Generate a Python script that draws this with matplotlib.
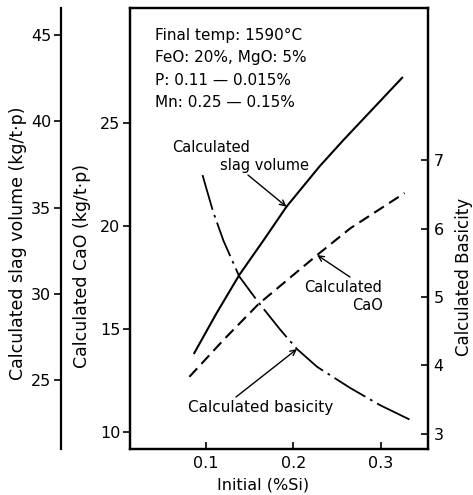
import matplotlib
matplotlib.use("Agg")
import matplotlib.pyplot as plt

# values
si_slag = [0.086, 0.112, 0.138, 0.166, 0.192, 0.230, 0.257, 0.325]
slag_volume = [26.51, 28.87, 31.09, 33.12, 35.05, 37.4, 38.91, 42.57]

si_cao = [0.081, 0.120, 0.160, 0.227, 0.265, 0.327]
cao = [12.68, 14.47, 16.21, 18.59, 19.89, 21.6]

si_bas = [0.096, 0.108, 0.120, 0.138, 0.160, 0.185, 0.204, 0.227, 0.265, 0.299, 0.336]
basicity = [6.78, 6.25, 5.82, 5.30, 4.92, 4.52, 4.24, 3.98, 3.67, 3.42, 3.19]

x_ticks = [0.1, 0.2, 0.3]
cao_ticks = [10, 15, 20, 25]
slag_ticks = [25, 30, 35, 40, 45]
bas_ticks = [3, 4, 5, 6, 7]

notes = ["Final temp: 1590°C", "FeO: 20%, MgO: 5%",
         "P: 0.11 — 0.015%", "Mn: 0.25 — 0.15%"]

plt.rcParams['font.family'] = ['DejaVu Sans']

fig = plt.figure(figsize=(4.73, 4.95), dpi=100)
ax = fig.add_axes([0.2748, 0.0929, 0.6300, 0.8909])
ax2 = ax.twinx()
ax3 = ax.twinx()

lw_sp = 1.6
for a in (ax, ax2, ax3):
    for s in a.spines.values():
        s.set_linewidth(lw_sp)

# outer slag volume axis
ax3.spines['left'].set_position(('axes', -0.2315))
ax3.spines['left'].set_visible(True)
for s in ('right', 'top', 'bottom'):
    ax3.spines[s].set_visible(False)
ax3.yaxis.set_label_position('left')
ax3.yaxis.set_ticks_position('left')

ax.set_xlim(0.0131, 0.3537)
ax.set_ylim(9.175, 30.58)
ax2.set_ylim(2.78, 9.22)
ax3.set_ylim(21.0, 46.57)

ax.set_xticks(x_ticks)
ax.set_xticklabels([str(v) for v in x_ticks])
ax.set_yticks(cao_ticks)
ax2.set_yticks(bas_ticks)
ax3.set_yticks(slag_ticks)

ax.tick_params(axis='x', direction='in', length=5, width=1.2, labelsize=11.5, pad=5)
ax.tick_params(axis='y', direction='out', length=5, width=1.2, labelsize=11.5, pad=2)
ax2.tick_params(axis='y', direction='in', length=5, width=1.2, labelsize=11.5, pad=4)
ax3.tick_params(axis='y', direction='out', length=5, width=1.2, labelsize=11.5, pad=2)

# curves
ax3.plot(si_slag, slag_volume, color='black', lw=1.5, solid_capstyle='butt')
ax.plot(si_cao, cao, color='black', lw=1.5, dashes=(5.5, 3))
ax2.plot(si_bas, basicity, color='black', lw=1.3, dashes=(20, 3, 1.5, 3))

# condition notes
for i, t in enumerate(notes):
    ax3.text(0.084, 0.9388 - i * 0.0513, t, transform=ax3.transAxes,
             fontsize=11, va='center', ha='left')

# curve labels and arrows
ax3.text(0.2735, 0.6848, "Calculated", transform=ax3.transAxes,
         fontsize=10.5, ha='center', va='center')
ax3.text(0.453, 0.644, "slag volume", transform=ax3.transAxes,
         fontsize=10.5, ha='center', va='center')
ax3.annotate('', xy=(si_slag[4], slag_volume[4]), xycoords=ax3.transData,
             xytext=(0.396, 0.6213), textcoords='axes fraction',
             arrowprops=dict(arrowstyle='->', lw=1.0, color='black',
                             shrinkA=0, shrinkB=0))

ax3.text(0.8456, 0.3673, "Calculated", transform=ax3.transAxes,
         fontsize=10.5, ha='right', va='center')
ax3.text(0.849, 0.3265, "CaO", transform=ax3.transAxes,
         fontsize=10.5, ha='right', va='center')
ax3.annotate('', xy=(si_cao[3], cao[3]), xycoords=ax.transData,
             xytext=(0.7383, 0.39), textcoords='axes fraction',
             arrowprops=dict(arrowstyle='->', lw=1.0, color='black',
                             shrinkA=0, shrinkB=0))

ax3.text(0.4396, 0.0952, "Calculated basicity", transform=ax3.transAxes,
         fontsize=11, ha='center', va='center')
ax3.annotate('', xy=(si_bas[6], basicity[6]), xycoords=ax2.transData,
             xytext=(0.3557, 0.1179), textcoords='axes fraction',
             arrowprops=dict(arrowstyle='->', lw=1.0, color='black',
                             shrinkA=0, shrinkB=0))

# axis titles
fig.text(0.038, 0.509, "Calculated slag volume (kg/t·p)", rotation=90,
         fontsize=12.5, ha='center', va='center')
fig.text(0.1734, 0.4626, "Calculated CaO (kg/t·p)", rotation=90,
         fontsize=12.5, ha='center', va='center')
fig.text(0.980, 0.4404, "Calculated Basicity", rotation=90,
         fontsize=12, ha='center', va='center')
fig.text(0.556, 0.0202, "Initial (%Si)", fontsize=11.5,
         ha='center', va='center')

fig.savefig("out.png", dpi=100)
